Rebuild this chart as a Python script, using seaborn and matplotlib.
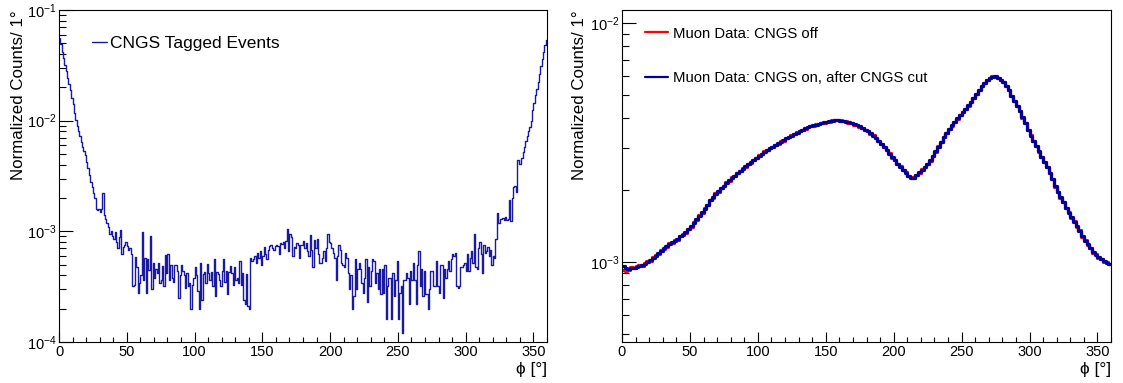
import numpy as np
import pandas as pd
import matplotlib
matplotlib.use("Agg")
import matplotlib.pyplot as plt
import seaborn as sns
from matplotlib.ticker import MultipleLocator, LogLocator, NullFormatter

# ---------------- data ----------------
# left panel: CNGS tagged events, 1 degree bins (values in units of 1e-4)
phi_edges_left = np.arange(0, 361, 1)
tagged_e4 = [
    555, 490, 420, 370, 320, 280, 245, 215, 190, 160,
    140, 118, 101, 90, 80, 72, 64, 58, 53, 49,
    42, 37, 32, 28, 25, 22, 20, 16, 15.5, 16,
    15, 16, 22, 14, 13, 12, 11, 9.5, 10, 9,
    8.5, 9.8, 8.0, 7.0, 8.8, 10.2, 6.2, 7.2, 7.6, 8.0,
    7.4, 6.8, 7.0, 6.2, 3.2, 3.3, 5.9, 4.8, 2.8, 3.4,
    4.0, 9.8, 3.6, 5.8, 2.8, 5.6, 4.5, 9.0, 3.0, 5.2,
    3.8, 4.6, 4.2, 5.2, 3.4, 3.6, 4.9, 3.2, 6.1, 4.2,
    6.3, 3.6, 5.0, 3.8, 3.5, 5.0, 5.0, 4.4, 2.5, 4.0,
    5.0, 4.4, 4.0, 3.1, 4.2, 3.2, 3.4, 2.0, 3.3, 3.8,
    4.8, 4.0, 2.9, 2.0, 5.2, 2.4, 4.1, 4.3, 3.4, 5.1,
    4.2, 3.6, 4.3, 3.2, 5.6, 2.6, 4.3, 4.1, 3.6, 3.2,
    4.4, 5.6, 3.5, 4.4, 2.7, 4.3, 4.9, 4.2, 3.3, 4.8,
    3.6, 3.8, 3.4, 5.4, 3.3, 4.2, 2.4, 2.2, 4.1, 2.1,
    2.0, 5.8, 5.4, 5.6, 6.0, 5.2, 6.4, 5.8, 6.6, 5.0,
    6.0, 7.2, 6.2, 5.6, 6.8, 7.4, 7.6, 7.0, 6.8, 7.4,
    7.6, 7.4, 6.2, 7.8, 7.7, 8.0, 7.0, 8.2, 10.6, 6.6,
    9.4, 8.8, 6.0, 7.2, 7.0, 7.8, 7.6, 5.8, 7.6, 7.6,
    8.2, 7.0, 7.8, 6.6, 6.0, 9.2, 6.8, 4.8, 8.4, 7.0,
    8.6, 6.2, 5.2, 5.2, 5.8, 6.6, 5.4, 7.0, 9.5, 8.0,
    7.8, 7.0, 6.4, 5.8, 3.6, 6.0, 7.6, 6.8, 5.2, 5.0,
    4.8, 6.4, 5.8, 4.2, 3.0, 4.0, 2.0, 2.6, 5.6, 3.0,
    4.6, 5.2, 4.6, 3.4, 2.8, 3.8, 5.6, 2.3, 4.8, 3.2,
    4.4, 5.6, 5.4, 3.4, 4.2, 3.0, 4.6, 2.7, 4.6, 2.8,
    5.0, 1.6, 3.2, 3.8, 3.8, 1.6, 4.2, 2.6, 3.6, 5.4,
    1.6, 2.8, 3.2, 1.2, 3.6, 3.6, 4.2, 3.8, 2.2, 4.4,
    3.6, 5.2, 3.6, 2.2, 5.0, 6.6, 3.2, 4.6, 2.6, 4.4,
    2.7, 2.7, 2.0, 3.0, 4.4, 4.4, 3.2, 3.2, 5.4, 3.2,
    2.8, 5.0, 5.0, 2.5, 4.6, 3.8, 4.6, 5.4, 4.4, 5.6,
    6.2, 6.0, 6.4, 3.2, 3.1, 3.2, 4.8, 4.8, 5.0, 5.2,
    4.4, 6.2, 4.4, 5.8, 6.6, 5.2, 9.4, 4.8, 4.6, 7.0,
    8.0, 6.2, 4.2, 7.6, 6.4, 6.6, 7.2, 6.0, 6.8, 5.0,
    6.0, 5.8, 8.6, 14.5, 12.0, 13.0, 12.8, 13.2, 12.6, 13.4,
    12.6, 13.0, 19.0, 12.5, 20.0, 25.0, 25.5, 22.5, 44.0, 41.0,
    41.0, 46.0, 52.0, 58.0, 66.0, 72.0, 80.0, 88.0, 100, 125,
    145, 170, 195, 225, 265, 310, 360, 420, 480, 540,
]

# right panel: muon data, 2 degree bins (values in units of 1e-5)
phi_edges_right = np.arange(0, 361, 2)
cngs_off_e5 = [
    93, 92, 93, 95, 94, 96, 97, 96, 99, 101,
    101, 105, 107, 108, 112, 113, 116, 120, 120, 124,
    124, 129, 131, 132, 138, 140, 147, 150, 157, 161,
    168, 173, 182, 186, 194, 197, 205, 208, 216, 219,
    226, 229, 236, 240, 247, 250, 257, 260, 268, 272,
    280, 283, 290, 293, 300, 303, 310, 313, 320, 322,
    330, 333, 339, 342, 349, 352, 358, 361, 367, 371,
    372, 377, 377, 382, 383, 387, 387, 391, 392, 391,
    391, 388, 388, 383, 382, 376, 374, 368, 365, 357,
    353, 344, 339, 329, 322, 311, 304, 293, 285, 273,
    267, 257, 251, 242, 237, 228, 226, 224, 232, 236,
    244, 249, 258, 265, 278, 289, 305, 317, 334, 347,
    361, 372, 387, 398, 413, 424, 438, 451, 469, 486,
    506, 524, 546, 562, 579, 589, 598, 597, 591, 577,
    566, 545, 523, 496, 473, 448, 428, 402, 381, 356,
    339, 321, 306, 289, 276, 261, 250, 235, 223, 207,
    197, 186, 179, 168, 162, 153, 148, 140, 136, 127,
    124, 118, 115, 109, 108, 104, 103, 100, 100, 98,
]
cngs_on_e5 = [
    96, 94, 93.5, 94, 94.5, 95, 96, 97, 98.5, 100,
    102, 104, 106.5, 109, 111, 114, 117, 119, 121, 123,
    125, 128, 130, 133, 137, 141, 146, 151, 156, 162,
    167, 174, 181, 187, 193, 198, 204, 209, 215, 220,
    225, 230, 235, 241, 246, 251, 256, 261, 267, 273,
    279, 284, 289, 294, 299, 304, 309, 314, 319, 323,
    329, 334, 338, 343, 348, 353, 357, 362, 368, 370,
    373, 376, 378, 381, 384, 386, 388, 390, 391, 392,
    390, 389, 387, 384, 381, 377, 373, 369, 364, 358,
    352, 345, 338, 330, 321, 312, 303, 294, 284, 274,
    266, 258, 250, 243, 236, 229, 224, 225, 231, 237,
    243, 250, 257, 266, 277, 290, 304, 318, 333, 348,
    360, 373, 386, 399, 412, 425, 437, 452, 468, 487,
    505, 525, 545, 563, 578, 590, 597, 598, 590, 578,
    565, 546, 522, 497, 472, 449, 427, 403, 380, 357,
    338, 322, 305, 290, 275, 262, 249, 236, 222, 208,
    196, 187, 178, 169, 161, 154, 147, 141, 135, 128,
    123, 119, 114, 110, 107, 105, 103, 101, 99.5, 98.5,
]

tagged = np.array(tagged_e4) * 1e-4
cngs_off = np.array(cngs_off_e5) * 1e-5
cngs_on = np.array(cngs_on_e5) * 1e-5

left_label = "CNGS Tagged Events"
off_label = "Muon Data: CNGS off"
on_label = "Muon Data: CNGS on, after CNGS cut"
ylabel = "Normalized Counts/ 1°"
xlabel = "ϕ [°]"

# ---------------- style ----------------
sns.set_style("white")
plt.rcParams["font.family"] = ["Liberation Sans", "DejaVu Sans"]
plt.rcParams["mathtext.fontset"] = "custom"
plt.rcParams["mathtext.rm"] = "Liberation Sans"
plt.rcParams["mathtext.it"] = "Liberation Sans:italic"
plt.rcParams["mathtext.default"] = "regular"
for key in ("text.color", "axes.labelcolor", "xtick.color", "ytick.color",
            "xtick.labelcolor", "ytick.labelcolor", "axes.edgecolor"):
    plt.rcParams[key] = "black"

W, H = 1123, 383
fig = plt.figure(figsize=(W / 100, H / 100), dpi=100)
ax1 = fig.add_axes([59 / W, 1 - 342 / H, 488 / W, 332 / H])
ax2 = fig.add_axes([622 / W, 1 - 342 / H, 489 / W, 332 / H])


def step_frame(edges, vals):
    return pd.DataFrame({"phi": edges, "v": np.append(vals, vals[-1])})


sns.lineplot(data=step_frame(phi_edges_left, tagged), x="phi", y="v",
             drawstyle="steps-post", color="#1a1aa0", lw=1.0, ax=ax1,
             label=left_label)
sns.lineplot(data=step_frame(phi_edges_right, cngs_off), x="phi", y="v",
             drawstyle="steps-post", color="#ff0000", lw=2.3, ax=ax2,
             label=off_label)
sns.lineplot(data=step_frame(phi_edges_right, cngs_on), x="phi", y="v",
             drawstyle="steps-post", color="#000099", lw=2.3, ax=ax2,
             label=on_label)

for ax, ylim in ((ax1, (1e-4, 1e-1)), (ax2, (4.63e-4, 1.133e-2))):
    ax.set_yscale("log")
    ax.set_xlim(0, 360)
    ax.set_ylim(*ylim)
    ax.xaxis.set_major_locator(MultipleLocator(50))
    ax.xaxis.set_minor_locator(MultipleLocator(10))
    ax.yaxis.set_major_locator(LogLocator(base=10))
    ax.yaxis.set_minor_locator(LogLocator(base=10, subs=np.arange(2, 10), numticks=20))
    ax.yaxis.set_minor_formatter(NullFormatter())
    ax.tick_params(axis="x", which="major", direction="in", length=7, width=0.8,
                   labelsize=10.5, pad=2.5, bottom=True, top=False,
                   color="black", labelcolor="black")
    ax.tick_params(axis="x", which="minor", direction="in", length=3.6, width=0.8,
                   bottom=True, top=False, color="black")
    ax.tick_params(axis="y", which="major", direction="in", length=10, width=0.8,
                   labelsize=10.5, pad=1.5, left=True, right=False,
                   color="black", labelcolor="black")
    ax.tick_params(axis="y", which="minor", direction="in", length=5, width=0.8,
                   left=True, right=False, color="black")
    for s in ax.spines.values():
        s.set_linewidth(0.8)
        s.set_color("black")
    ax.set_xlabel(xlabel, loc="right", fontsize=12.5, color="black")
    ax.set_ylabel(ylabel, loc="top", fontsize=12.2, color="black")

ax1.xaxis.set_label_coords(1.0, -0.06)
ax2.xaxis.set_label_coords(1.0, -0.06)
ax1.yaxis.set_label_coords(-0.068, 1.0)
ax2.yaxis.set_label_coords(-0.072, 1.0)

leg1 = ax1.legend(loc="upper left", bbox_to_anchor=(0.067, 0.922), frameon=False,
                  fontsize=12.5, handlelength=0.86, handletextpad=0.17,
                  borderpad=0, borderaxespad=0, labelcolor="black")
for l in leg1.get_lines():
    l.set_linewidth(1.0)
leg2 = ax2.legend(loc="upper left", bbox_to_anchor=(0.047, 0.95), frameon=False,
                  fontsize=10.7, handlelength=1.55, handletextpad=0.34,
                  labelspacing=2.05, borderpad=0, borderaxespad=0, labelcolor="black")
for l in leg2.get_lines():
    l.set_linewidth(1.6)

fig.savefig("out.png", dpi=100)
